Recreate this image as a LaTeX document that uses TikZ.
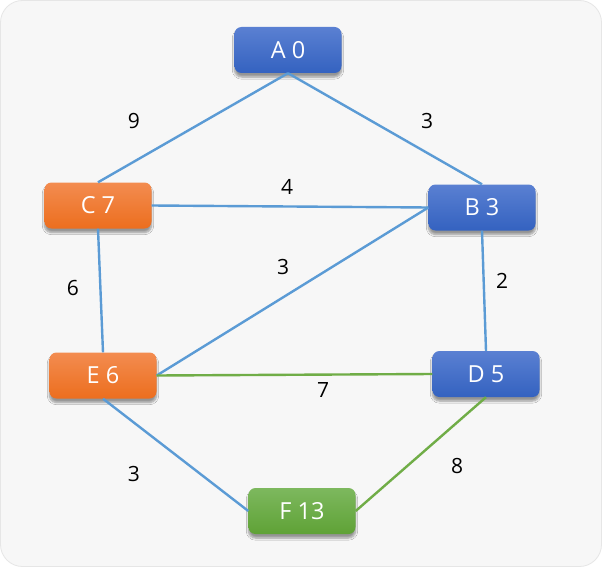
\documentclass[tikz,border=0pt]{standalone}
\usepackage{fontspec}
\setmainfont{Open Sans}
\usetikzlibrary{shadows.blur}
\definecolor{bgc}{HTML}{F7F7F7}
\definecolor{bordc}{HTML}{E6E6E6}
\definecolor{blueT}{HTML}{5A80D2}
\definecolor{blueB}{HTML}{3462C0}
\definecolor{orT}{HTML}{F38C50}
\definecolor{orB}{HTML}{EC6E1E}
\definecolor{grT}{HTML}{7DB85E}
\definecolor{grB}{HTML}{5FA236}
\definecolor{edgeblue}{HTML}{5B9BD5}
\definecolor{edgegreen}{HTML}{70AD47}
\tikzset{
  vbox/.style={rounded corners=7pt, minimum width=107pt, minimum height=46pt,
    text=white, font=\fontsize{23.5}{27}\selectfont, inner sep=0pt,
    blur shadow={shadow xshift=0pt, shadow yshift=-4pt, shadow blur steps=6, shadow opacity=40}},
  bluebox/.style={vbox, top color=blueT, bottom color=blueB},
  orangebox/.style={vbox, top color=orT, bottom color=orB},
  greenbox/.style={vbox, top color=grT, bottom color=grB},
  bedge/.style={draw=edgeblue, line width=2.4pt},
  gedge/.style={draw=edgegreen, line width=2.4pt},
  wlabel/.style={font=\fontsize{21}{25}\selectfont, text=black, inner sep=0pt}
}
\begin{document}
\begin{tikzpicture}[x=1pt,y=-1pt]
\path[use as bounding box] (0,0) rectangle (602,567);
\fill[white] (0,0) rectangle (602,567);
\draw[fill=bgc, draw=bordc, line width=0.8pt, rounded corners=22pt] (0.5,0.5) rectangle (601.5,566.5);

\node[bluebox] (A) at (288,50) {A 0};
\node[orangebox] (C) at (98,205.5) {C 7};
\node[bluebox] (B) at (482,207.5) {B 3};
\node[orangebox] (E) at (103,375.5) {E 6};
\node[bluebox] (D) at (486,374) {D 5};
\node[greenbox] (F) at (302,511) {F 13};

\path[bedge] (A.south) -- (C.north);
\path[bedge] (A.south) -- (B.north);
\path[bedge] (C.east) -- (B.west);
\path[bedge] (B.west) -- (E.east);
\path[bedge] (B.south) -- (D.north);
\path[bedge] (C.south) -- (E.north);
\path[gedge] (E.east) -- (D.west);
\path[bedge] (E.south) -- (F.west);
\path[gedge] (F.east) -- (D.south);

\node[wlabel] (l1) at (134,121) {9};
\node[wlabel] (l2) at (427,121) {3};
\node[wlabel] (l3) at (287,187) {4};
\node[wlabel] (l4) at (283,267) {3};
\node[wlabel] (l5) at (73,288) {6};
\node[wlabel] (l6) at (502,281) {2};
\node[wlabel] (l7) at (323,390) {7};
\node[wlabel] (l8) at (134,474) {3};
\node[wlabel] (l9) at (457,466) {8};
\end{tikzpicture}
\end{document}
